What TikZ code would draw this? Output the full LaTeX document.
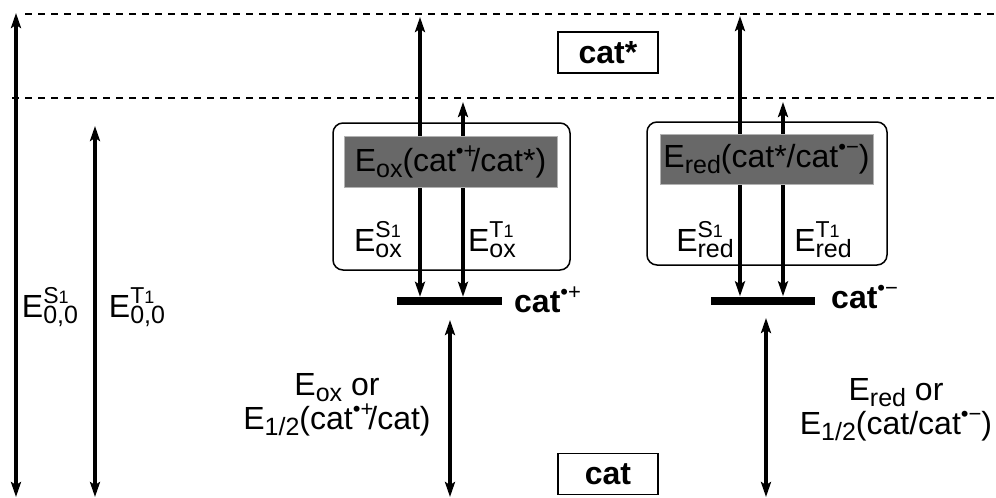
\documentclass[tikz,border=0pt]{standalone}
\usepackage{fontspec}
\setmainfont{Liberation Sans}
\usetikzlibrary{arrows.meta}
\newcommand\mylo[1]{\raisebox{-6pt}{\fontsize{25}{25}\selectfont #1}}
\newcommand\myhi[1]{\raisebox{14pt}{\fontsize{23}{23}\selectfont #1}}
\newcommand\myone{{\fontsize{18}{18}\selectfont 1}}
\newcommand\ESub[2]{E\rlap{\myhi{#1}}\mylo{#2}}
\newcommand\radp{\raisebox{13pt}{\fontsize{22}{22}\selectfont\mdseries •+}\kern-5pt}
\newcommand\radm{\raisebox{13pt}{\fontsize{22}{22}\selectfont\mdseries •−}}
\definecolor{boxgray}{RGB}{104,104,104}
\begin{document}
\begin{tikzpicture}[x=1pt,y=-1pt,
  mytip/.tip={Stealth[length=15pt,width=10pt,inset=3pt]},
  dbl/.style={draw=black,line width=3.4pt,mytip-mytip},
  lvl/.style={line width=1.4pt,dash pattern=on 7pt off 6pt},
  rbox/.style={draw,line width=1.5pt,rounded corners=10pt,inner sep=0pt},
  gbox/.style={fill=boxgray,draw=gray!60,line width=0.8pt,inner sep=0pt,minimum width=213pt,minimum height=51pt},
  sbox/.style={draw,line width=1.5pt,inner sep=0pt,minimum width=100pt,minimum height=41pt,font=\fontsize{32}{34}\selectfont\bfseries},
  bar/.style={fill=black,inner sep=0pt,minimum width=105pt,minimum height=8pt},
  lab/.style={inner sep=0pt,font=\fontsize{32}{34}\selectfont,align=center},
  blab/.style={inner sep=0pt,font=\fontsize{32}{34}\selectfont\bfseries}]
\useasboundingbox (0,0) rectangle (996,498);
% energy levels
\coordinate (l1a) at (25,14);  \coordinate (l1b) at (996,14);
\coordinate (l2a) at (12,98);  \coordinate (l2b) at (996,98);
\draw[lvl] (l1a) -- (l1b);
\draw[lvl] (l2a) -- (l2b);
% rounded boxes
\node[rbox,minimum width=237pt,minimum height=147pt] (oxbox) at (451.5,196.5) {};
\node[rbox,minimum width=240pt,minimum height=143pt] (redbox) at (767,193.5) {};
% bars
\node[bar] (barox) at (449.5,301) {};
\node[bar,minimum width=104pt] (barred) at (763,300.5) {};
% state boxes
\node[sbox] (catstar) at (608,52.5) {cat*};
\node[sbox] (cat) at (608,474) {cat};
% arrow ends
\coordinate (s1t) at (16,13);  \coordinate (s1b) at (16,497);
\coordinate (t1t) at (95,126); \coordinate (t1b) at (95,497);
\coordinate (ox1t) at (420,17); \coordinate (ox2t) at (463,102);
\coordinate (rd1t) at (740,16); \coordinate (rd2t) at (783,102);
\coordinate (ox3t) at (450,320); \coordinate (ox3b) at (450,497);
\coordinate (rd3t) at (766,318); \coordinate (rd3b) at (766,497);
\draw[dbl] (s1t) -- (s1b);
\draw[dbl] (t1t) -- (t1b);
\draw[dbl] (ox1t) -- (ox1t |- barox.north);
\draw[dbl] (ox2t) -- (ox2t |- barox.north);
\draw[dbl] (rd1t) -- (rd1t |- barred.north);
\draw[dbl] (rd2t) -- (rd2t |- barred.north);
\draw[dbl] (ox3t) -- (ox3b);
\draw[dbl] (rd3t) -- (rd3b);
% gray labels
\node[gbox,lab] (gox) at (450.5,161.5) {E\mylo{ox}(cat\radp/cat*)};
\node[gbox,lab,minimum height=50pt] (gred) at (766.5,159) {E\mylo{red}(cat*/cat\radm)};
% labels
\node[lab] (e00s) at (50,307) {\ESub{S\myone}{0,0}};
\node[lab] (e00t) at (137,307) {\ESub{T\myone}{0,0}};
\node[lab] (eoxs) at (378,240) {\ESub{S\myone}{ox}};
\node[lab] (eoxt) at (492,240) {\ESub{T\myone}{ox}};
\node[lab] (ereds) at (705,240) {\ESub{S\myone}{red}};
\node[lab] (eredt) at (823,240) {\ESub{T\myone}{red}};
\node[blab,anchor=base west] (catp) at (514,312) {cat\radp};
\node[blab,anchor=base west] (catm) at (831,308) {cat\radm};
\node[lab] (oxlab) at (337,405) {E\mylo{ox} or\\E\mylo{1/2}(cat\radp/cat)};
\node[lab] (redlab) at (896,410) {E\mylo{red} or\\E\mylo{1/2}(cat/cat\radm)};
\end{tikzpicture}
\end{document}
